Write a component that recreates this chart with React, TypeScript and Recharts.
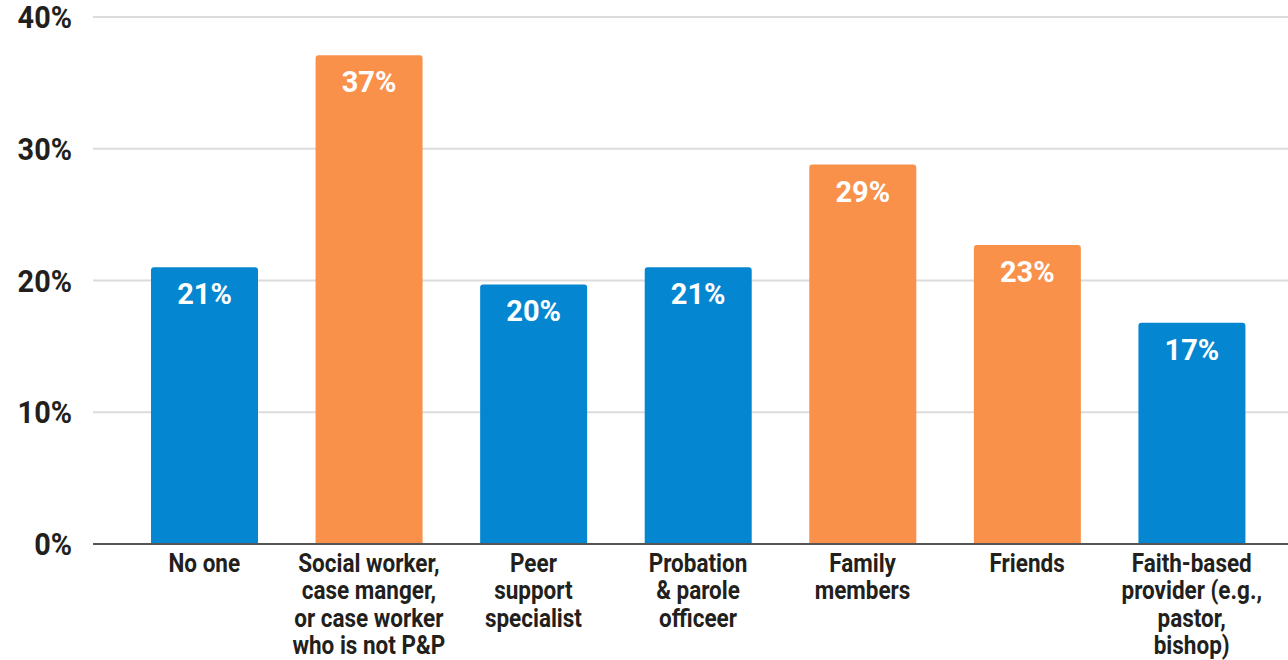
import React from "react";
import { BarChart, Bar, XAxis, YAxis, CartesianGrid, Cell, LabelList } from "recharts";

const categories = [
  "No one",
  "Social worker,\ncase manger,\nor case worker\nwho is not P&P",
  "Peer\nsupport\nspecialist",
  "Probation\n& parole\nofficeer",
  "Family\nmembers",
  "Friends",
  "Faith-based\nprovider (e.g.,\npastor,\nbishop)",
];
const values = [21.0, 37.1, 19.7, 21.0, 28.8, 22.7, 16.8];
const valueLabels = ["21%", "37%", "20%", "21%", "29%", "23%", "17%"];
const yTicks = [0, 10, 20, 30, 40];

const BLUE = "#0487d0";
const ORANGE = "#fa914b";
const barColors = [BLUE, ORANGE, BLUE, BLUE, ORANGE, ORANGE, BLUE];

const data = categories.map((c, i) => ({ name: c, value: values[i], label: valueLabels[i] }));

const FONT = "Roboto, 'Noto Sans', sans-serif";
const TEXT = "#231f1c";

const XTick = (props: any) => {
  const { x, y, payload } = props;
  const lines = String(payload.value).split("\n");
  return (
    <g transform={`translate(${x},${y})`}>
      <g transform="scale(0.9,1)">
        {lines.map((l: string, i: number) => (
          <text
            key={i}
            x={0}
            y={28 + i * 27.5}
            textAnchor="middle"
            fill={TEXT}
            fontFamily={FONT}
            fontWeight={700}
            fontSize={25}
          >
            {l}
          </text>
        ))}
      </g>
    </g>
  );
};

const YTick = (props: any) => {
  const { x, y, payload } = props;
  return (
    <g transform={`translate(${x - 21},${y + 11})`}>
      <g transform="scale(0.93,1)">
        <text x={0} y={0} textAnchor="end" fill={TEXT} fontFamily={FONT} fontWeight={700} fontSize={31}>
          {payload.value}%
        </text>
      </g>
    </g>
  );
};

const BarLabel = (props: any) => {
  const { x, y, width, index } = props;
  return (
    <text
      x={x + width / 2}
      y={y + 37}
      textAnchor="middle"
      fill="#ffffff"
      fontFamily={FONT}
      fontWeight={700}
      fontSize={29}
    >
      {valueLabels[index]}
    </text>
  );
};

export default function App() {
  return (
    <div style={{ position: "absolute", left: 0, top: 0, width: 1288, height: 660, background: "#fff" }}>
      <BarChart
        width={1288}
        height={660}
        data={data}
        margin={{ top: 17, right: 0, bottom: 0, left: 0 }}
        barSize={107}
      >
        <CartesianGrid vertical={false} stroke="#dcdcdc" strokeWidth={2} />
        <XAxis
          dataKey="name"
          height={116}
          interval={0}
          tick={<XTick />}
          tickLine={false}
          tickSize={0}
          tickMargin={0}
          axisLine={{ stroke: "#555555", strokeWidth: 2 }}
          padding={{ left: 29, right: 14 }}
        />
        <YAxis
          width={93}
          domain={[0, 40]}
          ticks={yTicks}
          tick={<YTick />}
          tickLine={false}
          tickSize={0}
          tickMargin={0}
          axisLine={false}
        />
        <Bar dataKey="value" isAnimationActive={false} radius={[3, 3, 0, 0]}>
          {data.map((d, i) => (
            <Cell key={i} fill={barColors[i]} />
          ))}
          <LabelList dataKey="value" content={<BarLabel />} />
        </Bar>
      </BarChart>
    </div>
  );
}
